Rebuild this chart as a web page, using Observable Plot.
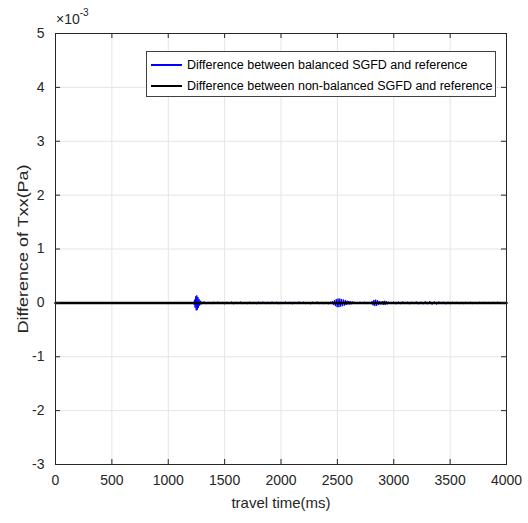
<!DOCTYPE html>
<html>
<head>
<meta charset="utf-8">
<script src="https://cdn.jsdelivr.net/npm/d3@7"></script>
<script src="https://cdn.jsdelivr.net/npm/@observablehq/plot@0.6"></script>
<style>
  html, body { margin: 0; padding: 0; background: #fff; }
  #wrap { position: relative; width: 528px; height: 523px; font-family: "Liberation Sans", Arial, sans-serif; }
  #exp { position: absolute; left: 56px; top: 9px; font-size: 14px; color: #262626; }
  #exp sup { font-size: 10px; position: relative; top: -2px; }
  #legend { position: absolute; left: 146px; top: 51px; width: 350px; height: 46px; background: #fff; border: 1px solid #404040; box-sizing: border-box; font-size: 12.5px; color: #000; }
  .row { position: absolute; left: 0; height: 20px; display: flex; align-items: center; }
  .sw { width: 31px; height: 0; border-top: 2px solid; margin-left: 4px; margin-right: 5px; }
</style>
</head>
<body>
<div id="wrap">
  <div id="chart"></div>
  <div id="exp">×10<sup>-3</sup></div>
  <div id="legend"></div>
</div>
<script>
// Units: time in ms, difference in 1e-3 Pa
const xTicks = [0, 500, 1000, 1500, 2000, 2500, 3000, 3500, 4000];
const yTicks = [-3, -2, -1, 0, 1, 2, 3, 4, 5];
const seriesNames = ["Difference between balanced SGFD and reference", "Difference between non-balanced SGFD and reference"];
const seriesColors = ["#0000ff", "#000000"];

// balanced SGFD difference: [time, value]
const balancedQuiet = [[0, 0], [1215, 0]];
const balancedBurst1 = [
  [1222, 0.01], [1228, -0.03], [1233, 0.06], [1238, -0.09], [1243, 0.12], [1248, -0.14], [1253, 0.14],
  [1258, -0.13], [1263, 0.11], [1268, -0.09], [1273, 0.07], [1278, -0.05], [1284, 0.04], [1290, -0.03],
  [1296, 0.02], [1302, -0.02], [1310, 0.015]
];
const balancedNoise1 = [
  [1320, 0.02], [1340, -0.015], [1360, 0.01], [1380, -0.02], [1400, 0.015], [1420, -0.01], [1440, 0.02],
  [1460, -0.015], [1480, 0.01], [1500, -0.02], [1520, 0.015], [1540, -0.01], [1560, 0.02], [1580, -0.02],
  [1600, 0.015], [1620, -0.01], [1640, 0.02], [1660, -0.015], [1680, 0.01], [1700, -0.02], [1720, 0.015],
  [1740, -0.015], [1760, 0.01], [1780, -0.02], [1800, 0.015], [1820, -0.01], [1840, 0.02], [1860, -0.015],
  [1880, 0.01], [1900, -0.015], [1920, 0.02], [1940, -0.01], [1960, 0.015], [1980, -0.02], [2000, 0.01],
  [2020, -0.015], [2040, 0.02], [2060, -0.01], [2080, 0.015], [2100, -0.02], [2120, 0.01], [2140, -0.015],
  [2160, 0.02], [2180, -0.01], [2200, 0.015], [2220, -0.015], [2240, 0.01], [2260, -0.02], [2280, 0.015],
  [2300, -0.01], [2320, 0.02], [2340, -0.015], [2360, 0.01], [2380, -0.02], [2400, 0.015], [2420, -0.02],
  [2440, 0.02]
];
const balancedBurst2 = [
  [2450, -0.02], [2458, 0.03], [2466, -0.04], [2474, 0.05], [2482, -0.06], [2490, 0.07], [2498, -0.08],
  [2506, 0.08], [2514, -0.08], [2522, 0.08], [2530, -0.07], [2538, 0.07], [2546, -0.06], [2554, 0.06],
  [2562, -0.05], [2570, 0.05], [2578, -0.04], [2586, 0.04], [2594, -0.03], [2602, 0.035], [2610, -0.03],
  [2618, 0.03], [2626, -0.025], [2634, 0.025], [2642, -0.02], [2650, 0.02], [2660, -0.02], [2670, 0.015],
  [2680, -0.015], [2700, 0.015], [2720, -0.01], [2740, 0.015], [2760, -0.015], [2780, 0.01], [2800, -0.02]
];
const balancedBurst3 = [
  [2808, 0.03], [2816, -0.045], [2824, 0.055], [2832, -0.06], [2840, 0.06], [2848, -0.055], [2856, 0.05],
  [2864, -0.04], [2872, 0.035], [2880, -0.03], [2888, 0.025], [2896, -0.03], [2904, 0.035], [2912, -0.04],
  [2920, 0.04], [2928, -0.035], [2936, 0.03], [2944, -0.025], [2952, 0.02], [2960, -0.02], [2970, 0.015],
  [2980, -0.015]
];
const balancedNoise2 = [
  [3000, 0.02], [3020, -0.025], [3040, 0.02], [3060, -0.02], [3080, 0.025], [3100, -0.02], [3120, 0.02],
  [3140, -0.025], [3160, 0.02], [3180, -0.02], [3200, 0.025], [3220, -0.025], [3240, 0.02], [3260, -0.025],
  [3280, 0.03], [3300, -0.025], [3320, 0.03], [3340, -0.03], [3360, 0.025], [3380, -0.03], [3400, 0.025],
  [3420, -0.02], [3440, 0.02], [3460, -0.025], [3480, 0.02], [3500, -0.02]
];
const balancedNoise3 = [
  [3520, 0.015], [3540, -0.01], [3560, 0.015], [3580, -0.015], [3600, 0.01], [3620, -0.015], [3640, 0.015],
  [3660, -0.01], [3680, 0.015], [3700, -0.015], [3720, 0.01], [3740, -0.015], [3760, 0.015], [3780, -0.01],
  [3800, 0.015], [3820, -0.015], [3840, 0.01], [3860, -0.015], [3880, 0.015], [3900, -0.01], [3920, 0.015],
  [3940, -0.015], [3960, 0.01], [3980, -0.01], [4000, 0]
];
// non-balanced SGFD difference: [time, value]
const nonBalanced = [[0, 0], [4000, 0]];

const balanced = [].concat(balancedQuiet, balancedBurst1, balancedNoise1, balancedBurst2, balancedBurst3, balancedNoise2, balancedNoise3)
  .map(([t, v]) => ({t, v}));
const nonBal = nonBalanced.map(([t, v]) => ({t, v}));

const W = 528, H = 523, mL = 55, mR = 22, mT = 33, mB = 59;
const pw = W - mL - mR, ph = H - mT - mB, tk = 5;
const frameColor = "#262626";
const fmt = d => String(d);

const chart = Plot.plot({
  width: W, height: H,
  marginLeft: mL, marginRight: mR, marginTop: mT, marginBottom: mB,
  style: {fontFamily: "'Liberation Sans', Arial, sans-serif", fontSize: "14px", color: "#262626", background: "#fff"},
  x: {domain: [0, 4000], ticks: xTicks},
  y: {domain: [-3, 5], ticks: yTicks},
  marks: [
    Plot.gridX(xTicks, {stroke: "#e4e4e4", strokeOpacity: 1}),
    Plot.gridY(yTicks, {stroke: "#e4e4e4", strokeOpacity: 1}),
    Plot.line(balanced, {x: "t", y: "v", stroke: seriesColors[0], strokeWidth: 1}),
    Plot.line(nonBal, {x: "t", y: "v", stroke: seriesColors[1], strokeWidth: 2.5}),
    Plot.frame({stroke: frameColor, strokeWidth: 1}),
    Plot.ruleX(xTicks, {x: d => d, insetTop: ph - tk, stroke: frameColor}),
    Plot.ruleX(xTicks, {x: d => d, insetBottom: ph - tk, stroke: frameColor}),
    Plot.ruleY(yTicks, {y: d => d, insetRight: pw - tk, stroke: frameColor}),
    Plot.ruleY(yTicks, {y: d => d, insetLeft: pw - tk, stroke: frameColor}),
    Plot.axisX(xTicks, {tickSize: 0, tickPadding: 11, tickFormat: fmt, label: null, fontSize: 14, fill: "#262626"}),
    Plot.axisY(yTicks, {tickSize: 0, tickPadding: 11, tickFormat: fmt, label: null, fontSize: 14, fill: "#262626"}),
    Plot.text(["travel time(ms)"], {frameAnchor: "bottom", dy: 43, fontSize: 15, fill: "#262626"}),
    Plot.text(["Difference of Txx(Pa)"], {frameAnchor: "left", dx: -32, rotate: -90, textAnchor: "middle", fontSize: 15, fill: "#262626", className: "ylab"})
  ]
});
d3.select(chart).selectAll(".ylab text").each(function() {
  const t = this.getAttribute("transform") || "";
  this.setAttribute("transform", t + " scale(1.2,1)");
});
document.getElementById("chart").appendChild(chart);

const legend = document.getElementById("legend");
seriesNames.forEach((name, i) => {
  const row = document.createElement("div");
  row.className = "row";
  row.style.top = (3 + i * 21) + "px";
  const sw = document.createElement("div");
  sw.className = "sw";
  sw.style.borderTopColor = seriesColors[i];
  const label = document.createElement("span");
  label.textContent = name;
  row.appendChild(sw);
  row.appendChild(label);
  legend.appendChild(row);
});
</script>
</body>
</html>
